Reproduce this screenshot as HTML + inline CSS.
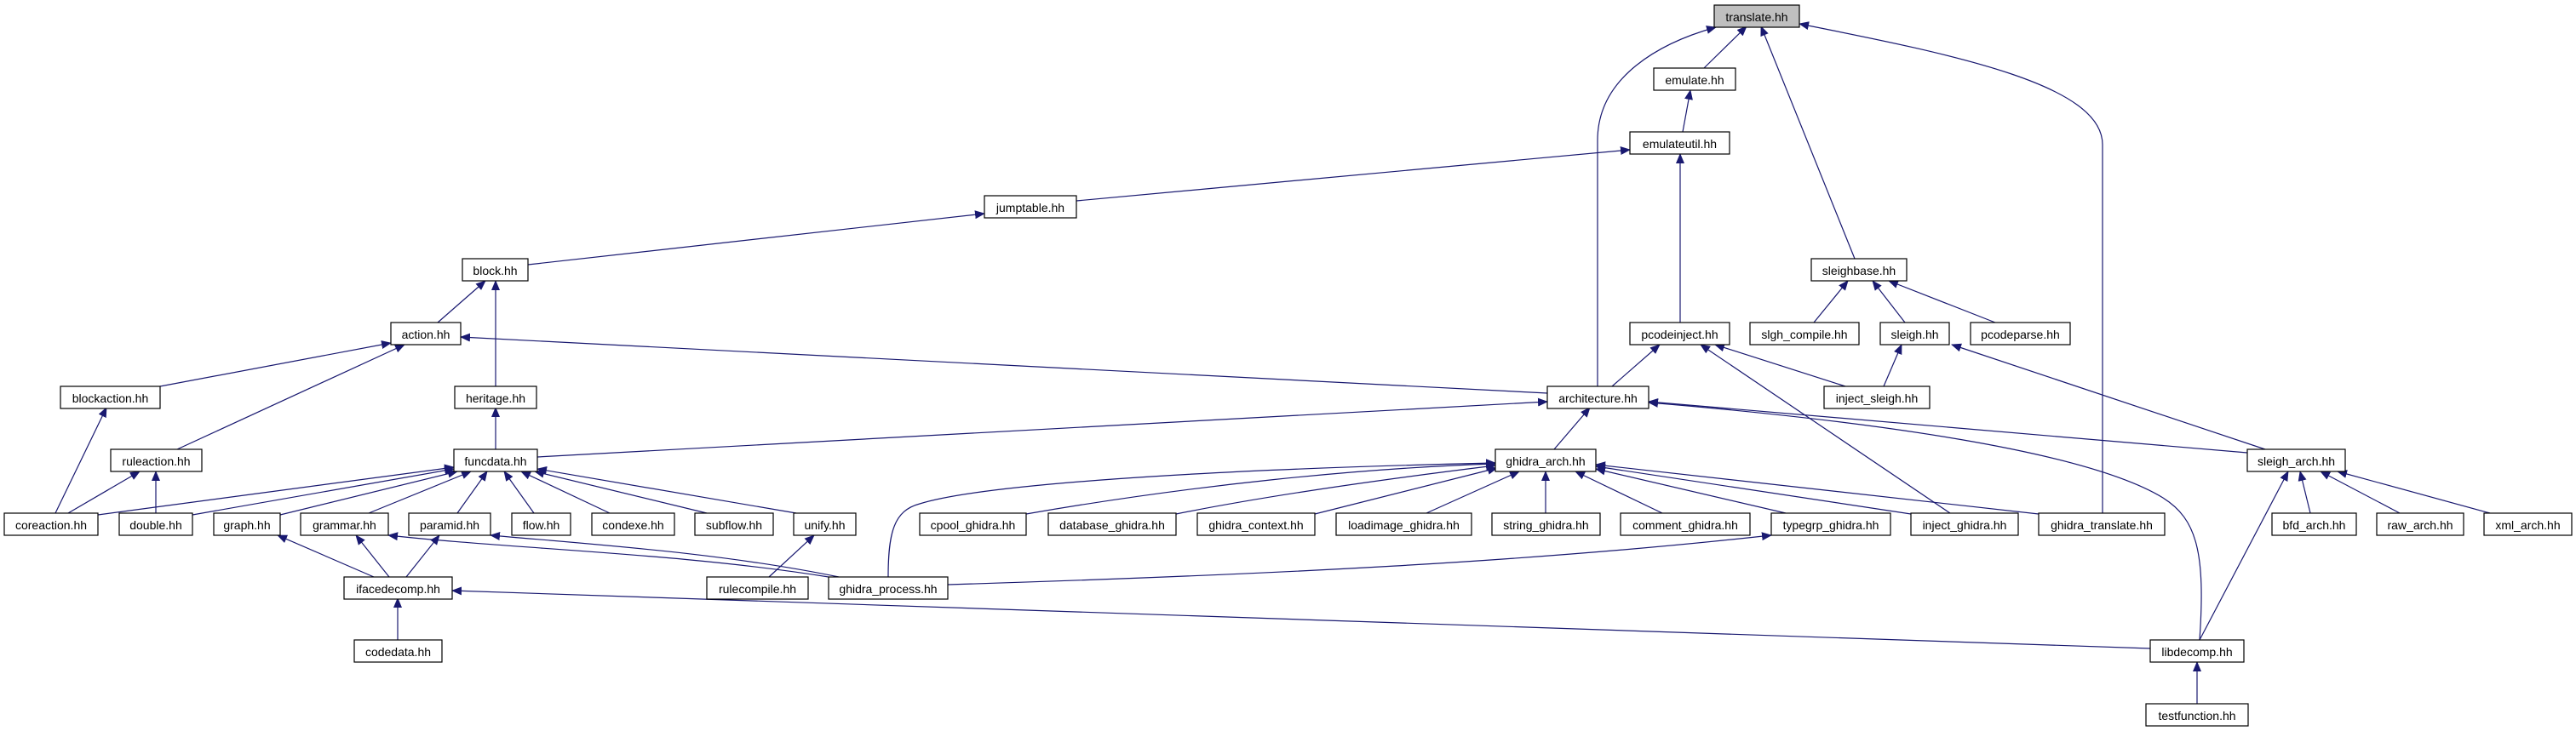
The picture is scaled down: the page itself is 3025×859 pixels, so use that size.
<!DOCTYPE html>
<html><head><meta charset="utf-8"><style>
html,body{margin:0;padding:0;background:#fff;}
svg{display:block;}
text{font-family:"Liberation Sans",sans-serif;font-size:14px;fill:#000;text-anchor:middle;}
.n{fill:#fff;stroke:#000;stroke-width:1.2;}
.e{fill:none;stroke:#191970;stroke-width:1.2;marker-end:url(#a);}
</style></head><body>
<svg width="3025" height="859" viewBox="0 0 3025 859" xmlns="http://www.w3.org/2000/svg">
<defs><marker id="a" markerWidth="12" markerHeight="10" refX="11" refY="5" orient="auto" markerUnits="userSpaceOnUse"><path d="M0,0 L12,5 L0,10 z" fill="#191970"/></marker></defs>
<g id="edges">
<path class="e" d="M2001,80 L2051,31"/>
<path class="e" d="M1876,454 L1876,165 C1876,90 1950,50 2015,32"/>
<path class="e" d="M2178,304 L2068,31"/>
<path class="e" d="M2469,603 L2469,170 C2469,100 2300,65 2113,28"/>
<path class="e" d="M1976,155 L1985,106"/>
<path class="e" d="M1264,236 L1914,176"/>
<path class="e" d="M1973,379 L1973,181"/>
<path class="e" d="M620,311 L1156,251"/>
<path class="e" d="M514,379 L570,330"/>
<path class="e" d="M582,454 L582,330"/>
<path class="e" d="M188,454 L459,403"/>
<path class="e" d="M208,528 L475,405"/>
<path class="e" d="M1817,462 L541,396"/>
<path class="e" d="M65,603 L125,479"/>
<path class="e" d="M80,603 L164,554"/>
<path class="e" d="M183,603 L183,554"/>
<path class="e" d="M582,528 L582,479"/>
<path class="e" d="M631,537 L1817,472"/>
<path class="e" d="M115,605 L533,549"/>
<path class="e" d="M226,605 L533,551"/>
<path class="e" d="M329,605 L537,554"/>
<path class="e" d="M433,603 L553,554"/>
<path class="e" d="M537,603 L572,554"/>
<path class="e" d="M627,603 L592,554"/>
<path class="e" d="M716,603 L612,554"/>
<path class="e" d="M830,603 L628,554"/>
<path class="e" d="M935,603 L631,551"/>
<path class="e" d="M439,678 L326,629"/>
<path class="e" d="M457,678 L418,629"/>
<path class="e" d="M477,678 L516,629"/>
<path class="e" d="M467,752 L467,703"/>
<path class="e" d="M2525,762 L531,694"/>
<path class="e" d="M973,678 C800,650 600,645 456,629"/>
<path class="e" d="M985,678 C850,650 700,640 576,629"/>
<path class="e" d="M903,678 L956,629"/>
<path class="e" d="M1825,528 L1867,479"/>
<path class="e" d="M1205,604 C1400,570 1600,550 1756,545"/>
<path class="e" d="M1381,604 C1500,580 1650,560 1756,547"/>
<path class="e" d="M1544,604 L1758,550"/>
<path class="e" d="M1675,603 L1784,554"/>
<path class="e" d="M1815,603 L1815,554"/>
<path class="e" d="M1952,603 L1850,554"/>
<path class="e" d="M2097,603 L1874,551"/>
<path class="e" d="M2244,604 L1874,548"/>
<path class="e" d="M2394,604 L1874,546"/>
<path class="e" d="M1043,678 C1043,625 1050,600 1080,592 C1150,570 1400,552 1756,544"/>
<path class="e" d="M1113,687 C1500,675 1800,660 2080,629"/>
<path class="e" d="M1893,454 L1949,405"/>
<path class="e" d="M2167,454 L2014,405"/>
<path class="e" d="M2290,603 L1997,405"/>
<path class="e" d="M2130,379 L2170,330"/>
<path class="e" d="M2237,379 L2199,330"/>
<path class="e" d="M2343,379 L2218,330"/>
<path class="e" d="M2212,454 L2233,405"/>
<path class="e" d="M2660,528 L2292,405"/>
<path class="e" d="M2639,532 L1936,472"/>
<path class="e" d="M2583,752 C2590,650 2580,610 2540,585 C2450,530 2200,495 1936,473"/>
<path class="e" d="M2583,752 L2687,554"/>
<path class="e" d="M2713,603 L2701,554"/>
<path class="e" d="M2818,603 L2725,554"/>
<path class="e" d="M2924,603 L2745,554"/>
<path class="e" d="M2580,827 L2580,778"/>
</g>
<g id="nodes">
<rect x="2013" y="6" width="100" height="26" fill="#bfbfbf" stroke="#000" stroke-width="1.2"/><text x="2063" y="25">translate.hh</text>
<rect class="n" x="1942" y="80" width="96" height="26"/><text x="1990" y="99">emulate.hh</text>
<rect class="n" x="1914" y="155" width="117" height="26"/><text x="1972.5" y="174">emulateutil.hh</text>
<rect class="n" x="1156" y="230" width="108" height="26"/><text x="1210" y="249">jumptable.hh</text>
<rect class="n" x="543" y="304" width="77" height="26"/><text x="581.5" y="323">block.hh</text>
<rect class="n" x="2127" y="304" width="112" height="26"/><text x="2183" y="323">sleighbase.hh</text>
<rect class="n" x="459" y="379" width="82" height="26"/><text x="500" y="398">action.hh</text>
<rect class="n" x="1914" y="379" width="117" height="26"/><text x="1972.5" y="398">pcodeinject.hh</text>
<rect class="n" x="2055" y="379" width="128" height="26"/><text x="2119" y="398">slgh_compile.hh</text>
<rect class="n" x="2208" y="379" width="81" height="26"/><text x="2248.5" y="398">sleigh.hh</text>
<rect class="n" x="2314" y="379" width="117" height="26"/><text x="2372.5" y="398">pcodeparse.hh</text>
<rect class="n" x="71" y="454" width="117" height="26"/><text x="129.5" y="473">blockaction.hh</text>
<rect class="n" x="534" y="454" width="96" height="26"/><text x="582" y="473">heritage.hh</text>
<rect class="n" x="1817" y="454" width="119" height="26"/><text x="1876.5" y="473">architecture.hh</text>
<rect class="n" x="2142" y="454" width="124" height="26"/><text x="2204" y="473">inject_sleigh.hh</text>
<rect class="n" x="130" y="528" width="107" height="26"/><text x="183.5" y="547">ruleaction.hh</text>
<rect class="n" x="533" y="528" width="98" height="26"/><text x="582" y="547">funcdata.hh</text>
<rect class="n" x="1756" y="528" width="118" height="26"/><text x="1815" y="547">ghidra_arch.hh</text>
<rect class="n" x="2639" y="528" width="115" height="26"/><text x="2696.5" y="547">sleigh_arch.hh</text>
<rect class="n" x="5" y="603" width="110" height="26"/><text x="60" y="622">coreaction.hh</text>
<rect class="n" x="140" y="603" width="86" height="26"/><text x="183" y="622">double.hh</text>
<rect class="n" x="251" y="603" width="78" height="26"/><text x="290" y="622">graph.hh</text>
<rect class="n" x="353" y="603" width="103" height="26"/><text x="404.5" y="622">grammar.hh</text>
<rect class="n" x="480" y="603" width="96" height="26"/><text x="528" y="622">paramid.hh</text>
<rect class="n" x="601" y="603" width="69" height="26"/><text x="635.5" y="622">flow.hh</text>
<rect class="n" x="695" y="603" width="97" height="26"/><text x="743.5" y="622">condexe.hh</text>
<rect class="n" x="816" y="603" width="92" height="26"/><text x="862" y="622">subflow.hh</text>
<rect class="n" x="932" y="603" width="73" height="26"/><text x="968.5" y="622">unify.hh</text>
<rect class="n" x="1080" y="603" width="125" height="26"/><text x="1142.5" y="622">cpool_ghidra.hh</text>
<rect class="n" x="1231" y="603" width="150" height="26"/><text x="1306" y="622">database_ghidra.hh</text>
<rect class="n" x="1406" y="603" width="138" height="26"/><text x="1475" y="622">ghidra_context.hh</text>
<rect class="n" x="1569" y="603" width="159" height="26"/><text x="1648.5" y="622">loadimage_ghidra.hh</text>
<rect class="n" x="1752" y="603" width="127" height="26"/><text x="1815.5" y="622">string_ghidra.hh</text>
<rect class="n" x="1903" y="603" width="152" height="26"/><text x="1979" y="622">comment_ghidra.hh</text>
<rect class="n" x="2080" y="603" width="140" height="26"/><text x="2150" y="622">typegrp_ghidra.hh</text>
<rect class="n" x="2244" y="603" width="126" height="26"/><text x="2307" y="622">inject_ghidra.hh</text>
<rect class="n" x="2394" y="603" width="148" height="26"/><text x="2468" y="622">ghidra_translate.hh</text>
<rect class="n" x="2668" y="603" width="99" height="26"/><text x="2717.5" y="622">bfd_arch.hh</text>
<rect class="n" x="2791" y="603" width="102" height="26"/><text x="2842" y="622">raw_arch.hh</text>
<rect class="n" x="2917" y="603" width="103" height="26"/><text x="2968.5" y="622">xml_arch.hh</text>
<rect class="n" x="404" y="678" width="127" height="26"/><text x="467.5" y="697">ifacedecomp.hh</text>
<rect class="n" x="830" y="678" width="119" height="26"/><text x="889.5" y="697">rulecompile.hh</text>
<rect class="n" x="973" y="678" width="140" height="26"/><text x="1043" y="697">ghidra_process.hh</text>
<rect class="n" x="416" y="752" width="103" height="26"/><text x="467.5" y="771">codedata.hh</text>
<rect class="n" x="2525" y="752" width="110" height="26"/><text x="2580" y="771">libdecomp.hh</text>
<rect class="n" x="2520" y="827" width="120" height="26"/><text x="2580" y="846">testfunction.hh</text>
</g>
</svg>
</body></html>
